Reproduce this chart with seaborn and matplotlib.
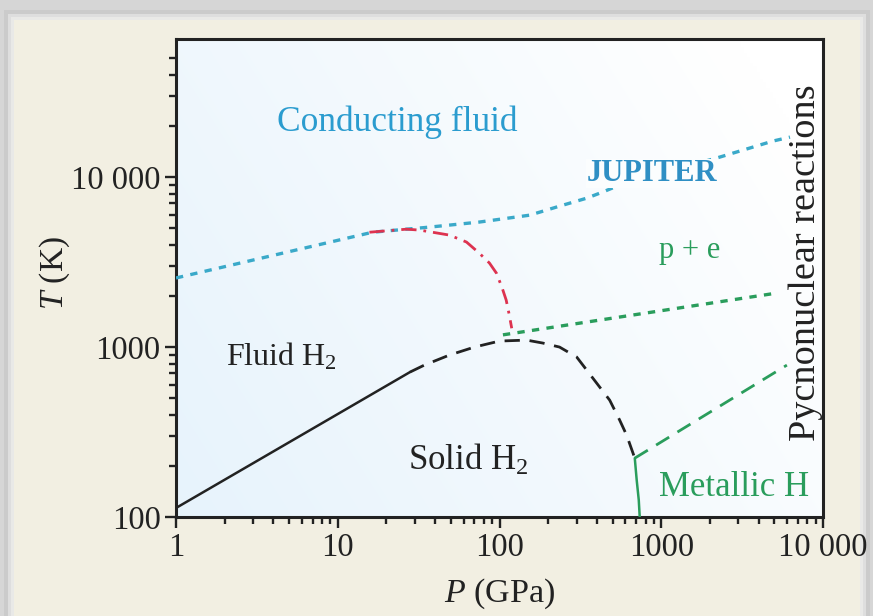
import numpy as np
import matplotlib
matplotlib.use("Agg")
import matplotlib.pyplot as plt
import seaborn as sns
from matplotlib.patches import Rectangle
from matplotlib.ticker import FixedLocator, NullFormatter

# ---------------- data ----------------
solid_P = [1, 28]
solid_T = [113, 713]

melt_P = [28, 34.3, 49, 70, 100, 147, 185, 235, 300, 346, 416, 480, 553, 611, 686]
melt_T = [713, 783, 897, 1000, 1085, 1099, 1056, 1000, 874, 732, 582, 487, 372, 303, 222]

red_P = [15.7, 18.9, 26.6, 32, 38.5, 49, 62.5, 75, 86.7, 95.8, 104, 110, 115, 119]
red_T = [4740, 4810, 4940, 4880, 4740, 4560, 4150, 3570, 3120, 2720, 2220, 1890, 1540, 1290]

jup_P = [1, 16.4, 36.9, 75, 153, 177, 235, 346, 434, 553, 2300, 4900, 6250]
jup_T = [2550, 4740, 5080, 5440, 5970, 6220, 6750, 7520, 8170, 8980, 13120, 16300, 17200]

pe_P = [105, 5200]
pe_T = [1180, 2080]

met_dash_P = [686, 5980]
met_dash_T = [222, 783]

met_solid_P = [686, 705, 726, 736]
met_solid_T = [222, 165, 126, 100]

x_ticks = [1, 10, 100, 1000, 10000]
x_labels = ["1", "10", "100", "1000", "10 000"]
y_ticks = [100, 1000, 10000]
y_labels = ["100", "1000", "10 000"]

# ---------------- style ----------------
sns.set_theme(style="ticks")
plt.rcParams["font.family"] = ["Liberation Serif", "DejaVu Serif"]
plt.rcParams["mathtext.fontset"] = "custom"
plt.rcParams["mathtext.rm"] = "Liberation Serif"
plt.rcParams["mathtext.it"] = "Liberation Serif:italic"

BLUE_TXT = "#2b9ccf"
BLUE_LINE = "#3aa9c9"
GREEN = "#2a9d5c"
RED = "#dd3350"
BLACK = "#222222"
BEIGE = "#f2efe2"

fig = plt.figure(figsize=(8.73, 6.16), dpi=100, facecolor="#d6d6d6")
# soft shadow + beige panel
shadow = [("#cbcbcb", 10), ("#dedede", 6), ("#e9e9e7", 3)]
for col, pad in shadow:
    fig.patches.append(Rectangle(((14 - pad) / 873, 0), (846 + 2 * pad) / 873,
                                 (596 + pad) / 616, transform=fig.transFigure,
                                 facecolor=col, edgecolor="none", zorder=-3))
fig.patches.append(Rectangle((14 / 873, 0), 846 / 873, 596 / 616,
                             transform=fig.transFigure, facecolor=BEIGE,
                             edgecolor="none", zorder=-2))

ax = fig.add_axes([176 / 873, 1 - 517 / 616, (823 - 176) / 873, (517 - 39) / 616])
ax.set_facecolor("white")

# background gradient in the plot area
gx, gy = np.meshgrid(np.linspace(0, 1, 200), np.linspace(1, 0, 150))
t = np.clip(0.75 * gx + 0.35 * gy, 0, 1)
c0 = np.array([0.905, 0.953, 0.988])
c1 = np.array([1.0, 1.0, 1.0])
img = c0[None, None, :] * (1 - t[..., None]) + c1[None, None, :] * t[..., None]
ax.imshow(img, extent=[0, 1, 0, 1], transform=ax.transAxes, aspect="auto",
          zorder=0, interpolation="bilinear")

ax.set_xscale("log")
ax.set_yscale("log")

def draw(P, T, color, ls, lw):
    sns.lineplot(x=P, y=T, ax=ax, color=color, linestyle=ls, linewidth=lw,
                 sort=False, estimator=None, zorder=3)

draw(jup_P, jup_T, BLUE_LINE, (0, (2.2, 2.2)), 2.4)
draw(pe_P, pe_T, GREEN, (0, (2.2, 2.2)), 2.4)
draw(red_P, red_T, RED, (0, (5.5, 2.5, 1, 2.5)), 2.0)
draw(solid_P, solid_T, BLACK, "-", 1.8)
draw(melt_P, melt_T, BLACK, (0, (5.5, 3.5)), 2.0)
draw(met_dash_P, met_dash_T, GREEN, (0, (5.5, 3.5)), 2.0)
draw(met_solid_P, met_solid_T, GREEN, "-", 1.8)

ax.set_xlim(1, 10000)
ax.set_ylim(100, 65000)

ax.set_xticks(x_ticks)
ax.set_xticklabels(x_labels)
ax.set_yticks(y_ticks)
ax.set_yticklabels(y_labels)
xminor = [m * 10 ** d for d in range(0, 4) for m in range(2, 10)]
yminor = [m * 10 ** d for d in range(2, 4) for m in range(2, 10)] + [20000, 30000, 40000, 50000]
ax.xaxis.set_minor_locator(FixedLocator(xminor))
ax.yaxis.set_minor_locator(FixedLocator(yminor))
ax.xaxis.set_minor_formatter(NullFormatter())
ax.yaxis.set_minor_formatter(NullFormatter())

ax.tick_params(which="both", direction="out", color=BLACK, width=1.7,
               top=False, right=False)
ax.tick_params(which="major", length=8, labelsize=23.5, labelcolor=BLACK, pad=3)
ax.tick_params(which="minor", length=5)
for s in ax.spines.values():
    s.set_linewidth(2.2)
    s.set_color(BLACK)
    s.set_visible(True)

ax.set_xlabel("$P$ (GPa)", fontsize=24.5, color=BLACK, labelpad=10)
ax.set_ylabel("$T$ (K)", fontsize=24, color=BLACK)
ax.yaxis.set_label_coords(-0.16, 0.51)

ax.text(23.4, 21100, "Conducting fluid", color=BLUE_TXT, fontsize=25.5,
        ha="center", va="center", zorder=4)
ax.text(873, 10560, "JUPITER", color="#2f8fc4", fontsize=22, fontweight="bold",
        ha="center", va="center", zorder=4,
        bbox=dict(facecolor="#fbfdfe", edgecolor="none", pad=0.0))
ax.text(1500, 3720, "p + e", color=GREEN, fontsize=22, ha="center", va="center", zorder=4)
ax.text(4.47, 873, "Fluid H$_2$", color=BLACK, fontsize=23, ha="center", va="center", zorder=4)
ax.text(64, 216, "Solid H$_2$", color=BLACK, fontsize=25, ha="center", va="center", zorder=4)
ax.text(2810, 150, "Metallic H", color=GREEN, fontsize=25, ha="center", va="center", zorder=4)
ax.text(7800, 3150, "Pycnonuclear reactions", color=BLACK, fontsize=27.5, rotation=90,
        ha="center", va="center", zorder=4)

fig.savefig("out.png", dpi=100, facecolor=fig.get_facecolor())
